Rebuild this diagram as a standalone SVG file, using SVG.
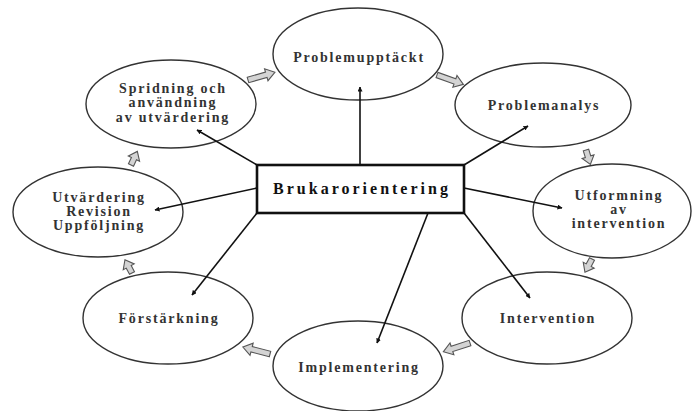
<svg xmlns="http://www.w3.org/2000/svg" width="695" height="411" viewBox="0 0 695 411">
<style>
.node ellipse{fill:#fff;stroke:#333;stroke-width:1.4}
.node text{font-family:"Liberation Serif",serif;font-weight:bold;font-size:14px;letter-spacing:1.8px;fill:#333;text-anchor:middle}
.conn line{stroke:#111;stroke-width:1.6}
.blk{fill:#d4d4d4;stroke:#555;stroke-width:1.1}
</style>
<defs>
<marker id="ah" viewBox="0 0 10 10" refX="9" refY="5" markerWidth="5" markerHeight="5" orient="auto" markerUnits="userSpaceOnUse">
<path d="M0,0 L10,5 L0,10 z" fill="#111"/>
</marker>
<path id="bl" class="blk" d="M0,-2.8 L19,-2.8 L19,-6.2 L28,0 L19,6.2 L19,2.8 L0,2.8 z"/>
<path id="bs" class="blk" d="M0,-2.8 L7,-2.8 L7,-6.2 L15,0 L7,6.2 L7,2.8 L0,2.8 z"/>
</defs>
<rect width="695" height="411" fill="#fff"/>
<g id="n-problemupptackt" class="node"><ellipse cx="358" cy="54" rx="85" ry="46"/><text x="359" y="62">Problemupptäckt</text></g>
<g id="n-problemanalys" class="node"><ellipse cx="543" cy="105" rx="88" ry="42"/><text x="544" y="110">Problemanalys</text></g>
<g id="n-utformning" class="node"><ellipse cx="612" cy="211" rx="79" ry="47"/><text x="619" y="200">Utformning</text><text x="619" y="214">av</text><text x="619" y="228">intervention</text></g>
<g id="n-intervention" class="node"><ellipse cx="547" cy="318" rx="85" ry="46"/><text x="548" y="323">Intervention</text></g>
<g id="n-implementering" class="node"><ellipse cx="358" cy="366" rx="85" ry="45"/><text x="359" y="372">Implementering</text></g>
<g id="n-forstarkning" class="node"><ellipse cx="168" cy="318" rx="85" ry="46"/><text x="169" y="323">Förstärkning</text></g>
<g id="n-utvardering" class="node"><ellipse cx="98" cy="212" rx="85" ry="45"/><text x="99" y="202">Utvärdering</text><text x="99" y="216">Revision</text><text x="99" y="230">Uppföljning</text></g>
<g id="n-spridning" class="node"><ellipse cx="171" cy="104" rx="85" ry="44"/><text x="173" y="93">Spridning och</text><text x="173" y="107">användning</text><text x="173" y="122">av utvärdering</text></g>
<g id="n-brukar"><rect x="257" y="165" width="207" height="48" fill="#fff" stroke="#111" stroke-width="2.6"/><text x="362" y="194" font-family="Liberation Serif,serif" font-weight="bold" font-size="16" letter-spacing="3" text-anchor="middle" fill="#111">Brukarorientering</text></g>
<g id="connectors" class="conn">
<line x1="360" y1="165" x2="360" y2="87" marker-end="url(#ah)"/>
<line x1="464" y1="165" x2="528" y2="126" marker-end="url(#ah)"/>
<line x1="464" y1="188" x2="562" y2="208" marker-end="url(#ah)"/>
<line x1="464" y1="213" x2="530" y2="298" marker-end="url(#ah)"/>
<line x1="428" y1="213" x2="377" y2="343" marker-end="url(#ah)"/>
<line x1="257" y1="213" x2="192" y2="295" marker-end="url(#ah)"/>
<line x1="257" y1="188" x2="155" y2="210" marker-end="url(#ah)"/>
<line x1="257" y1="165" x2="197" y2="130" marker-end="url(#ah)"/>
<use href="#bl" transform="translate(248,80) rotate(-16)"/>
<use href="#bl" transform="translate(437,75) rotate(19.5)"/>
<use href="#bs" transform="translate(586,150) rotate(73)"/>
<use href="#bs" transform="translate(592,259) rotate(118)"/>
<use href="#bl" transform="translate(470,343) rotate(162)"/>
<use href="#bl" transform="translate(270,354) rotate(194.5)"/>
<use href="#bs" transform="translate(132,273) rotate(242)"/>
<use href="#bs" transform="translate(131,165) rotate(-65)"/>
</g>
</svg>
